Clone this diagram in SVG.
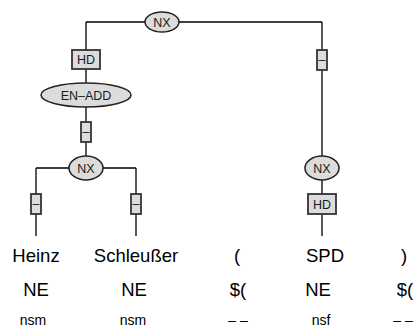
<svg xmlns="http://www.w3.org/2000/svg" width="416" height="328" viewBox="0 0 416 328">
<style>
.e{fill:#dcdcdc;stroke:#222;stroke-width:1.5}
.b{fill:#dcdcdc;stroke:#333;stroke-width:1.8}
.l{fill:none;stroke:#000;stroke-width:1.3}
.n{font-family:"Liberation Sans",Arial,sans-serif;font-size:12.5px;fill:#1a1a1a;text-anchor:middle}
.w{font-family:"Liberation Sans",Arial,sans-serif;font-size:18.5px;fill:#000;text-anchor:middle}
.m{font-family:"Liberation Sans",Arial,sans-serif;font-size:14px;fill:#000;text-anchor:middle}
.d{letter-spacing:4px}
</style>
<rect width="416" height="328" fill="#fff"/>
<g id="connectors">
<path class="l" d="M86,22 H322 M86,22 V95 M86,95 V168 M36,168 H136 M36,168 V236 M136,168 V236 M322,22 V236"/>
</g>
<g id="nx-top"><ellipse class="e" cx="162" cy="22" rx="17" ry="10"/><text class="n" x="162" y="26.5">NX</text></g>
<g id="hd-left"><rect class="b" x="72" y="50" width="28" height="19"/><text class="n" x="86" y="64">HD</text></g>
<g id="en-add"><ellipse class="e" cx="86" cy="95" rx="45" ry="12"/><text class="n" x="86" y="99.5">EN–ADD</text></g>
<g id="dash-mid"><rect class="b" x="81" y="122" width="10" height="20"/><text class="n" x="86" y="136">–</text></g>
<g id="nx-left"><ellipse class="e" cx="86" cy="168" rx="17" ry="12"/><text class="n" x="86" y="172.5">NX</text></g>
<g id="dash-heinz"><rect class="b" x="31" y="194" width="10" height="20"/><text class="n" x="36" y="208">–</text></g>
<g id="dash-schleusser"><rect class="b" x="131" y="194" width="10" height="20"/><text class="n" x="136" y="208">–</text></g>
<g id="dash-right"><rect class="b" x="317" y="50" width="10" height="20"/><text class="n" x="322" y="64">–</text></g>
<g id="nx-right"><ellipse class="e" cx="322" cy="168" rx="17" ry="12"/><text class="n" x="322" y="172.5">NX</text></g>
<g id="hd-right"><rect class="b" x="308" y="194" width="28" height="20"/><text class="n" x="322" y="208.5">HD</text></g>
<g id="tokens">
<text class="w" x="36" y="262">Heinz</text>
<text class="w" x="136" y="262">Schleußer</text>
<text class="w" x="237" y="262">(</text>
<text class="w" x="325" y="262">SPD</text>
<text class="w" x="404" y="262">)</text>
<text class="w" x="36" y="296">NE</text>
<text class="w" x="134" y="296">NE</text>
<text class="w" x="238" y="296">$(</text>
<text class="w" x="318" y="296">NE</text>
<text class="w" x="405" y="296">$(</text>
<text class="m" x="33" y="325">nsm</text>
<text class="m" x="133" y="325">nsm</text>
<text class="m d" x="240" y="325">––</text>
<text class="m" x="321" y="325">nsf</text>
<text class="m d" x="405" y="325">––</text>
</g>
</svg>
